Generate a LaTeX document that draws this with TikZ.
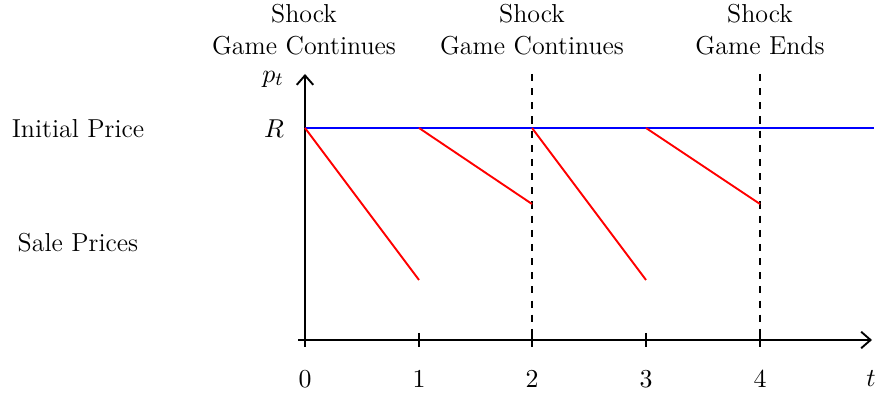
\documentclass[tikz,border=0pt]{standalone}
\usetikzlibrary{arrows.meta}
\begin{document}
\begin{tikzpicture}[x=0.4237pt,y=-0.4237pt,
  every node/.style={font=\fontsize{11}{13.6}\selectfont},
  axis/.style={thick,-{Straight Barb[length=4pt,width=7pt]}},
  price/.style={thick,red},
  init/.style={thick,blue},
  shockline/.style={thick,dashed},
  ticklbl/.style={inner sep=0pt},
  toplbl/.style={align=center,inner sep=0pt}]
\useasboundingbox (0,0) rectangle (876,398);
% axes
\coordinate (o) at (305,340);
\coordinate (xs) at (298,340);
\coordinate (xe) at (872,340);
\coordinate (ys) at (305,347);
\coordinate (ye) at (305,74);
\draw[axis] (xs) -- (xe);
\draw[axis] (ys) -- (ye);
% ticks
\foreach \i/\x in {0/305,1/419,2/532,3/646,4/760}{
  \coordinate (t\i a) at (\x,333);
  \coordinate (t\i b) at (\x,347);
  \draw[thick] (t\i a) -- (t\i b);
  \node[ticklbl] (n\i) at (\x,379) {$\i$};
}
\node[ticklbl] (tl) at (871,379) {$t$};
\node[ticklbl] (pl) at (273,79) {$p_t$};
\node[ticklbl] (Rl) at (274,129) {$R$};
% dashed shock lines
\coordinate (d2a) at (532,74);
\coordinate (d2b) at (532,340);
\coordinate (d4a) at (760,74);
\coordinate (d4b) at (760,340);
\draw[shockline] (d2a) -- (d2b);
\draw[shockline] (d4a) -- (d4b);
% initial price line
\coordinate (r0) at (305,128);
\coordinate (rend) at (874,128);
\draw[init] (r0) -- (rend);
% sale price lines
\coordinate (r1) at (419,128);
\coordinate (r2) at (532,128);
\coordinate (r3) at (646,128);
\coordinate (s1) at (419,280);
\coordinate (s2) at (532,204);
\coordinate (s3) at (646,280);
\coordinate (s4) at (760,204);
\draw[price] (r0) -- (s1);
\draw[price] (r1) -- (s2);
\draw[price] (r2) -- (s3);
\draw[price] (r3) -- (s4);
% top labels
\node[toplbl] (top0) at (304,30) {Shock\\Game Continues};
\node[toplbl] (top2) at (532,30) {Shock\\Game Continues};
\node[toplbl] (top4) at (760,30) {Shock\\Game Ends};
% left labels
\node[ticklbl] (ip) at (78,129) {Initial Price};
\node[ticklbl] (sp) at (78,243) {Sale Prices};
\end{tikzpicture}
\end{document}
